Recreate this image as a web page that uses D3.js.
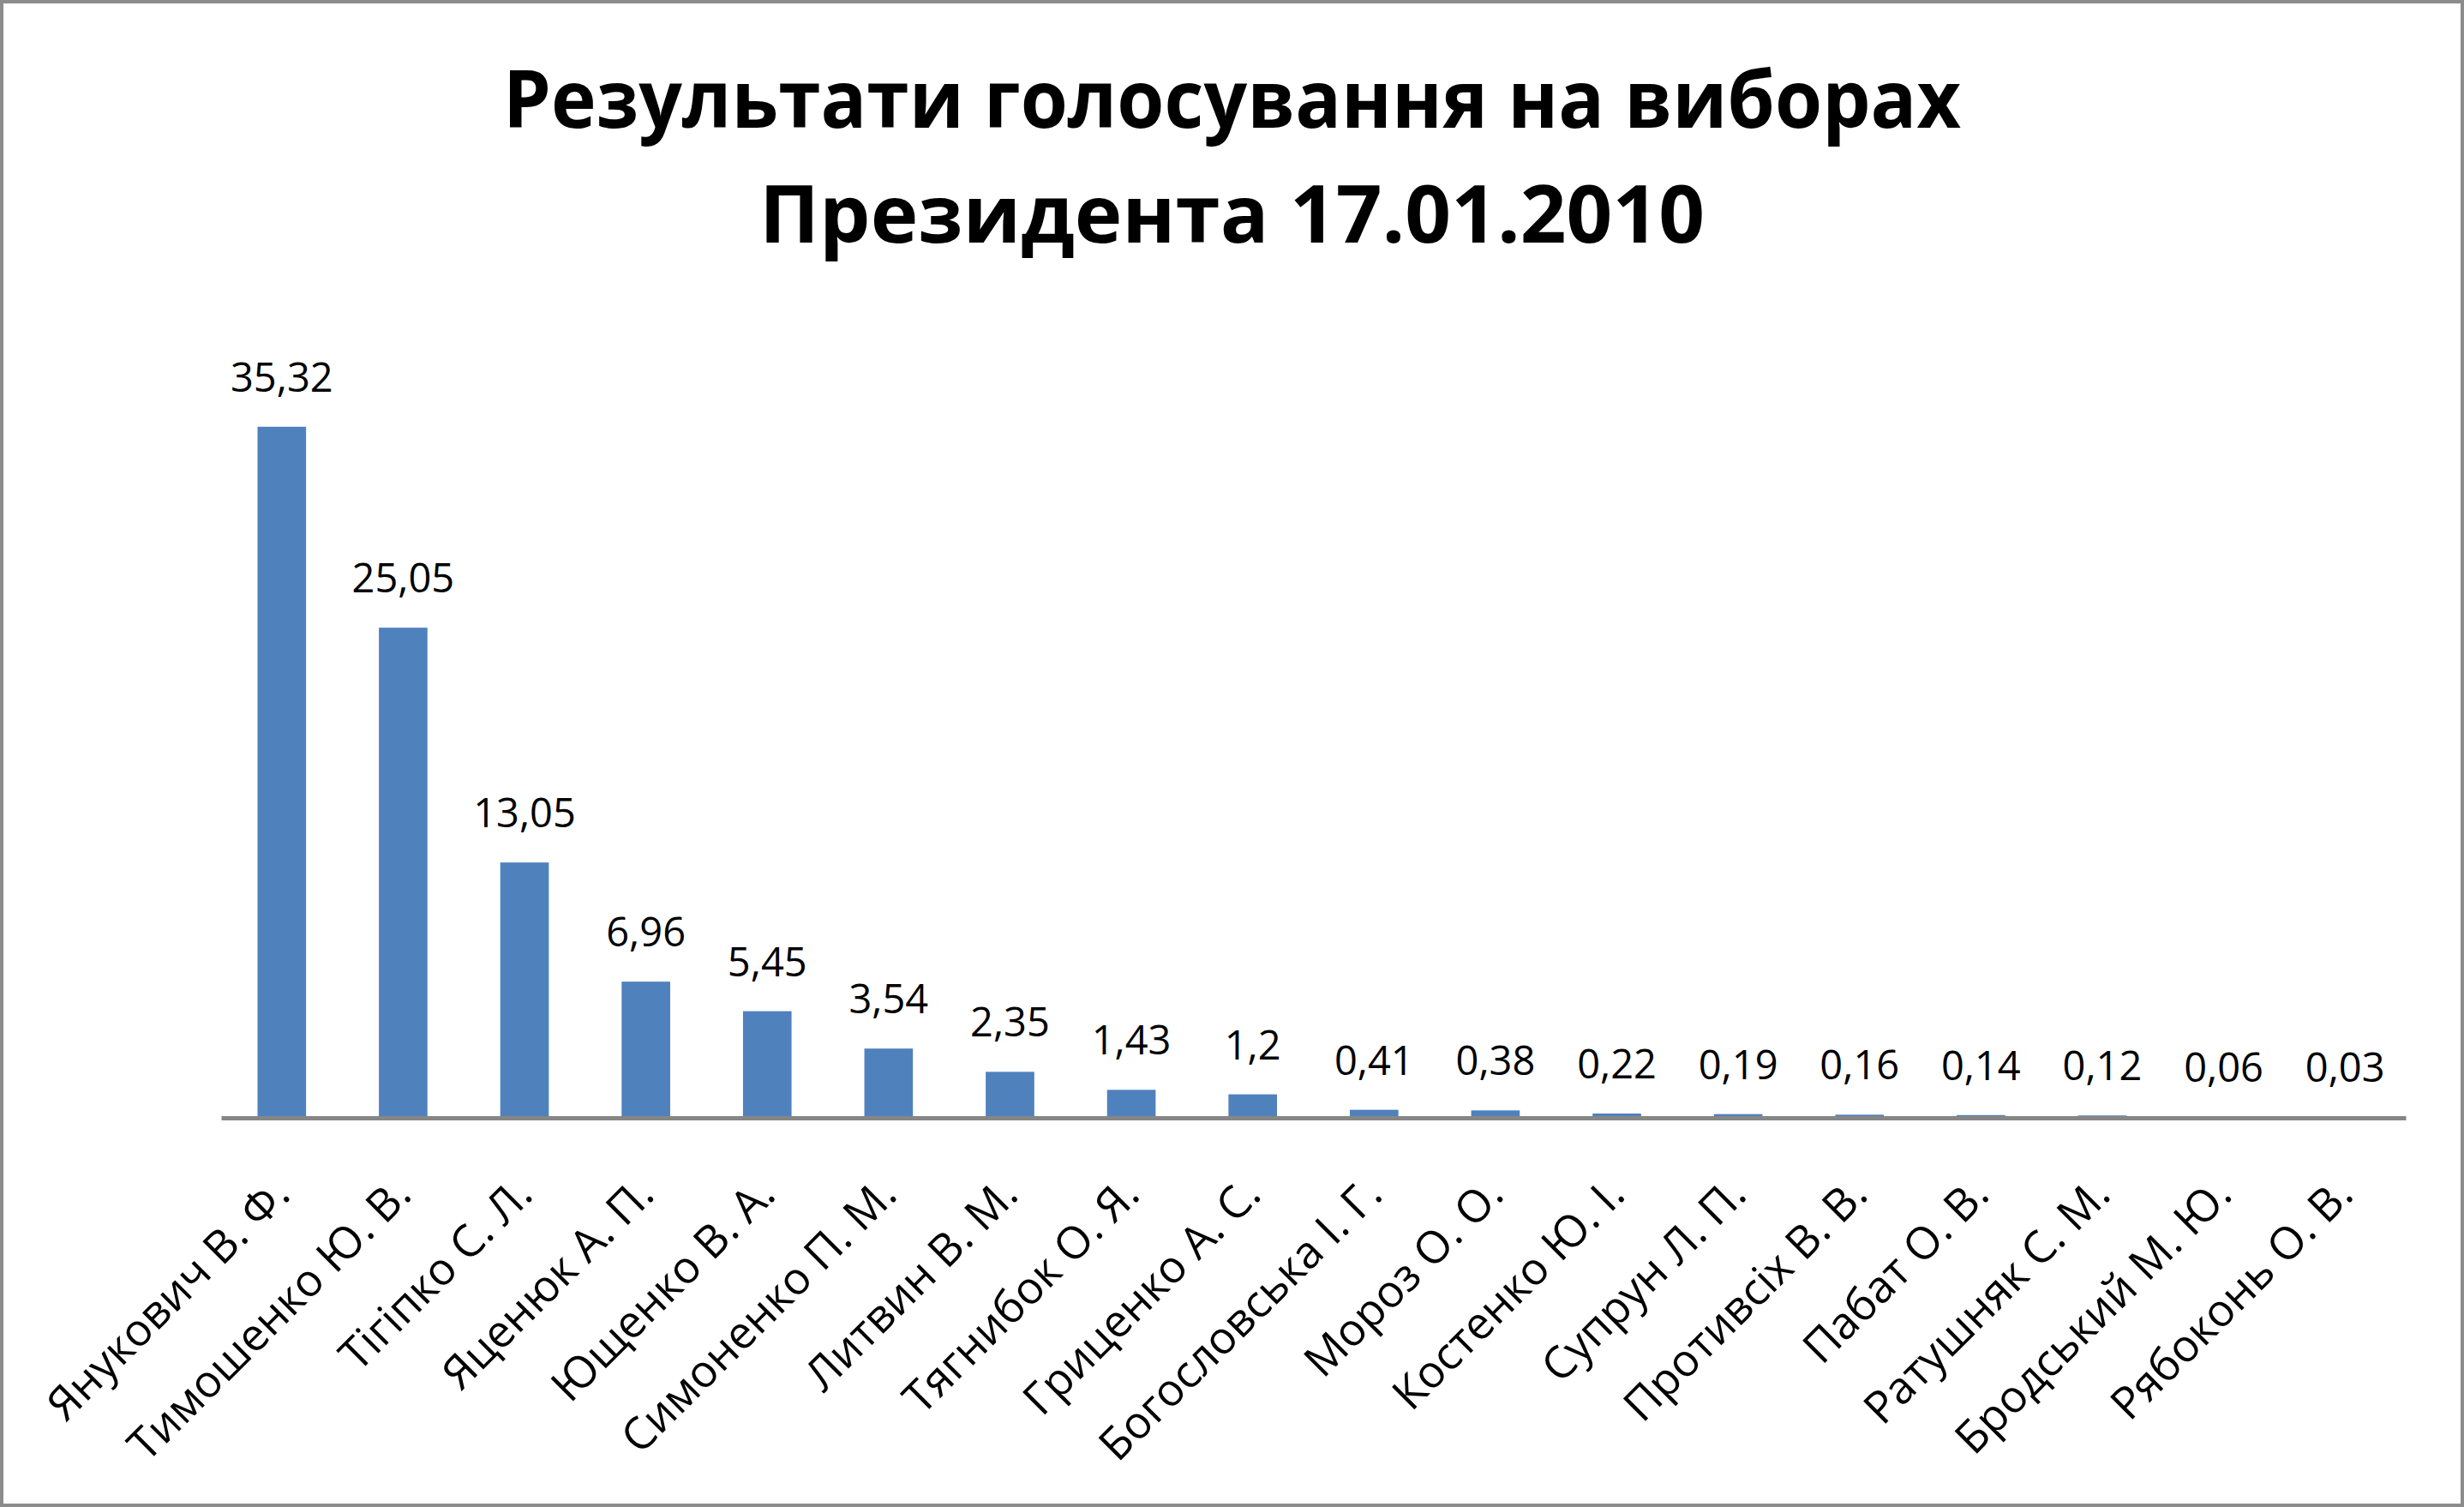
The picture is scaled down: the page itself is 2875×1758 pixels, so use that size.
<!DOCTYPE html>
<html>
<head>
<meta charset="utf-8">
<script src="https://cdn.jsdelivr.net/npm/d3@7"></script>
<style>
  html, body { margin: 0; padding: 0; background: #fff; }
  svg { display: block; font-family: "Open Sans", sans-serif; }
</style>
</head>
<body>
<div id="chart"></div>
<script>
const candidates = [
  'Янукович В. Ф.', 'Тимошенко Ю. В.', 'Тігіпко С. Л.', 'Яценюк А. П.',
  'Ющенко В. А.', 'Симоненко П. М.', 'Литвин В. М.', 'Тягнибок О. Я.',
  'Гриценко А. С.', 'Богословська І. Г.', 'Мороз О. О.', 'Костенко Ю. І.',
  'Супрун Л. П.', 'Противсіх В. В.', 'Пабат О. В.', 'Ратушняк С. М.',
  'Бродський М. Ю.', 'Рябоконь О. В.'
];
const percents = [35.32, 25.05, 13.05, 6.96, 5.45, 3.54, 2.35, 1.43, 1.2,
  0.41, 0.38, 0.22, 0.19, 0.16, 0.14, 0.12, 0.06, 0.03];
const titleLines = ['Результати голосування на виборах', 'Президента 17.01.2010'];
const yDomain = [0, 40];

const width = 2875;
const height = 1758;
const margin = {top: 391, right: 68, bottom: 454, left: 258};

const data = candidates.map((name, i) => ({name, value: percents[i]}));

const svg = d3.select('#chart')
  .append('svg')
  .attr('width', width)
  .attr('height', height);

svg.append('rect')
  .attr('x', 2).attr('y', 2)
  .attr('width', width - 4).attr('height', height - 4)
  .attr('fill', '#fff')
  .attr('stroke', '#8c8c8c')
  .attr('stroke-width', 4);

// title, two lines
svg.append('g')
  .selectAll('text')
  .data(titleLines)
  .enter()
  .append('text')
  .attr('x', width / 2)
  .attr('y', (d, i) => 149 + i * 134)
  .attr('text-anchor', 'middle')
  .attr('font-weight', 700)
  .attr('font-size', 94)
  .attr('textLength', (d, i) => (i === 0 ? 1701 : 1103))
  .attr('lengthAdjust', 'spacingAndGlyphs')
  .attr('fill', '#000')
  .text(d => d);

const x = d3.scaleBand()
  .domain(candidates)
  .range([margin.left, width - margin.right])
  .paddingInner(0.6)
  .paddingOuter(0.3);

const y = d3.scaleLinear()
  .domain(yDomain)
  .range([height - margin.bottom, margin.top]);

svg.append('g')
  .selectAll('rect')
  .data(data)
  .enter()
  .append('rect')
  .attr('x', d => x(d.name))
  .attr('y', d => y(d.value))
  .attr('width', x.bandwidth())
  .attr('height', d => y(0) - y(d.value))
  .attr('fill', '#4f81bd');

svg.append('g')
  .selectAll('text')
  .data(data)
  .enter()
  .append('text')
  .attr('x', d => x(d.name) + x.bandwidth() / 2)
  .attr('y', d => y(d.value) - 41)
  .attr('text-anchor', 'middle')
  .attr('font-size', 47)
  .attr('fill', '#000')
  .text(d => String(d.value).replace('.', ','));

const xAxis = svg.append('g')
  .attr('transform', `translate(0,${y(0)})`)
  .call(d3.axisBottom(x).tickSize(0).tickSizeOuter(0));

xAxis.select('.domain')
  .attr('stroke', '#868686')
  .attr('stroke-width', 5);

xAxis.selectAll('text')
  .attr('x', 0)
  .attr('y', 0)
  .attr('dy', 0)
  .attr('font-family', '"Open Sans", sans-serif')
  .attr('font-size', 52)
  .attr('fill', '#000')
  .attr('text-anchor', 'end')
  .attr('transform', 'translate(12,92) rotate(-45)');
</script>
</body>
</html>
